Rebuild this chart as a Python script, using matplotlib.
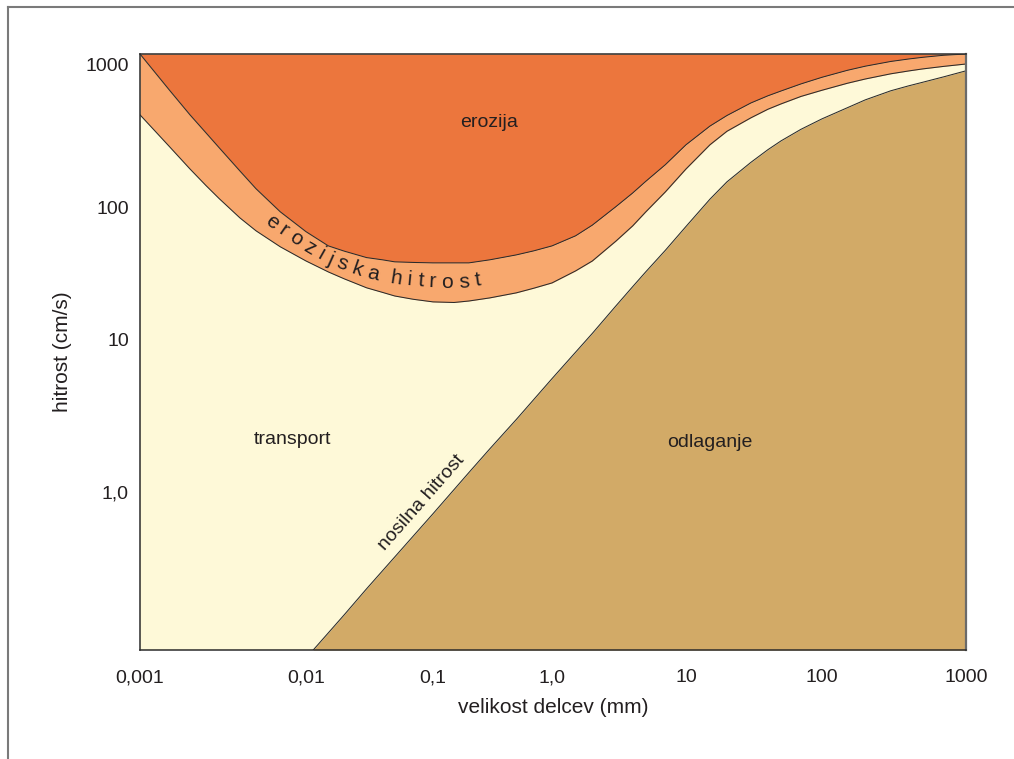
"""
Hjulstroem diagram: erosion, transport and deposition of grains
as a function of grain size and flow velocity.
"""

import matplotlib
matplotlib.use("Agg")

import matplotlib.pyplot as plt
import numpy as np
from matplotlib.font_manager import FontProperties
from matplotlib.lines import Line2D
from matplotlib.ticker import FixedLocator, NullLocator
from matplotlib.transforms import IdentityTransform


# grain size (mm) where the two erosion curves were read
GRAIN_SIZE = [0.001, 0.0015, 0.002, 0.0025, 0.003, 0.004, 0.005, 0.007,
              0.01, 0.015, 0.02, 0.03, 0.04, 0.05, 0.07, 0.1, 0.15, 0.2,
              0.3, 0.5, 0.7, 1, 1.5, 2, 3, 4, 5, 7, 10, 15, 20, 30, 40,
              50, 70, 100, 150, 200, 300, 400, 500, 700, 1000]

# upper edge of the erosion-velocity band (cm/s)
EROSION_UPPER = [1190, 668, 447, 334, 263, 181, 136, 93.3,
                 66, 51.5, 47, 42, 40.4, 39, 38.6, 38.3, 38.3, 38.3,
                 40.4, 44, 47.2, 51.5, 61.4, 74, 102, 127, 153, 200, 276,
                 373, 442, 541, 607, 656, 735, 818, 915, 978, 1055, 1098,
                 1128, 1166, 1190]

# lower edge of the erosion-velocity band (cm/s)
EROSION_LOWER = [447, 269, 187, 143, 116, 83.9, 67, 50.7,
                 39.6, 32.7, 29.0, 24.8, 22.9, 21.5, 20.3, 19.4, 19.2, 19.7,
                 20.8, 22.7, 24.6, 27.0, 33.3, 39.6, 56, 73, 93, 129, 187,
                 276, 343, 426, 489, 533, 601, 664, 743, 796, 865, 906,
                 936, 975, 1013]

# settling (carrying) velocity curve
SETTLE_SIZE = [0.0114, 0.02, 0.03, 0.05, 0.1, 0.2, 0.3, 0.5, 1, 2, 3, 4, 5,
               7, 10, 15, 20, 30, 40, 50, 70, 100, 200, 300, 400, 500,
               700, 1000]
SETTLE_SPEED = [0.1, 0.167, 0.244, 0.388, 0.728, 1.34, 1.92, 2.99, 5.56,
                11.2, 18.1, 25.3, 32.7, 47.6, 72.3, 115, 152, 208, 255, 294,
                354, 419, 569, 658, 713, 755, 824, 908]

X_TICKS = [0.001, 0.01, 0.1, 1, 10, 100, 1000]
X_TICK_LABELS = ["0,001", "0,01", "0,1", "1,0", "10", "100", "1000"]
Y_TICKS = [1, 10, 100, 1000]
Y_TICK_LABELS = ["1,0", "10", "100", "1000"]

# the hand drawn axes are not evenly spaced per decade
X_DECADES = [-3, -2, -1, 0, 1, 2, 3]
X_DECADE_POS = [0, 166, 293, 412, 546, 682, 826]
Y_DECADES = [-1, 0, 1, 2, 3]
Y_DECADE_POS = [0, 158, 310, 442, 585]

DARK = "#EC763D"
BAND = "#F8A86E"
CREAM = "#FEF9D8"
TAN = "#D2AA67"
INK = "#231f20"
FONT = ["Liberation Sans", "DejaVu Sans"]


def decade_scale(decades, positions):
    k_in = np.asarray(decades, float)
    k_out = np.asarray(positions, float)
    lo = (k_out[1] - k_out[0]) / (k_in[1] - k_in[0])
    hi = (k_out[-1] - k_out[-2]) / (k_in[-1] - k_in[-2])

    def forward(v):
        t = np.log10(np.clip(np.asarray(v, float), 1e-12, None))
        out = np.interp(t, k_in, k_out)
        out = np.where(t < k_in[0], k_out[0] + (t - k_in[0]) * lo, out)
        out = np.where(t > k_in[-1], k_out[-1] + (t - k_in[-1]) * hi, out)
        return out

    def inverse(p):
        p = np.asarray(p, float)
        t = np.interp(p, k_out, k_in)
        t = np.where(p < k_out[0], k_in[0] + (p - k_out[0]) / lo, t)
        t = np.where(p > k_out[-1], k_in[-1] + (p - k_out[-1]) / hi, t)
        return 10 ** t

    return forward, inverse


def text_along(ax, xs, ys, text, start_x, size, tracking, space, offset):
    """Write text letter by letter along a curve given in data coords."""

    fig = ax.figure
    renderer = fig.canvas.get_renderer()
    prop = FontProperties(family=FONT, size=size)

    pts = ax.transData.transform(np.column_stack([xs, ys]))
    seg = np.hypot(np.diff(pts[:, 0]), np.diff(pts[:, 1]))
    s = np.concatenate([[0], np.cumsum(seg)])

    x0 = ax.transData.transform((start_x, 1))[0]
    pos = np.interp(x0, pts[:, 0], s)

    for ch in text:
        if ch == " ":
            pos += space
            continue
        w = renderer.get_text_width_height_descent(ch, prop, ismath=False)[0]
        c = pos + w / 2
        px = np.interp(c, s, pts[:, 0])
        py = np.interp(c, s, pts[:, 1])
        dx = np.interp(c + 8, s, pts[:, 0]) - np.interp(c - 8, s, pts[:, 0])
        dy = np.interp(c + 8, s, pts[:, 1]) - np.interp(c - 8, s, pts[:, 1])
        n = np.hypot(dx, dy)
        nx, ny = -dy / n, dx / n
        ax.text(
            px - nx * offset, py - ny * offset, ch,
            transform=IdentityTransform(),
            rotation=np.degrees(np.arctan2(dy, dx)),
            rotation_mode="anchor",
            ha="center", va="baseline",
            fontproperties=prop, color=INK,
        )
        pos += w + tracking


def main():

    plt.rcParams["font.family"] = FONT

    fig = plt.figure(figsize=(10.14, 7.59), dpi=100)
    ax = fig.add_axes([140 / 1014, 109 / 759, 826 / 1014, 596 / 759])

    ax.set_xscale("function", functions=decade_scale(X_DECADES, X_DECADE_POS))
    ax.set_yscale("function", functions=decade_scale(Y_DECADES, Y_DECADE_POS))
    ax.set_xlim(0.001, 1000)
    ax.set_ylim(0.1, 1190)

    ax.set_facecolor(CREAM)

    ax.fill_between(GRAIN_SIZE, EROSION_UPPER, 1190, color=DARK, lw=0)
    ax.fill_between(GRAIN_SIZE, EROSION_LOWER, EROSION_UPPER, color=BAND, lw=0)
    ax.fill_between(SETTLE_SIZE, 0.1, SETTLE_SPEED, color=TAN, lw=0)

    for xs, ys in [(GRAIN_SIZE, EROSION_UPPER),
                   (GRAIN_SIZE, EROSION_LOWER),
                   (SETTLE_SIZE, SETTLE_SPEED)]:
        ax.plot(xs, ys, color="#2b2b2b", lw=0.75, solid_joinstyle="round")

    ax.xaxis.set_major_locator(FixedLocator(X_TICKS))
    ax.xaxis.set_minor_locator(NullLocator())
    ax.set_xticklabels(X_TICK_LABELS)
    ax.yaxis.set_major_locator(FixedLocator(Y_TICKS))
    ax.yaxis.set_minor_locator(NullLocator())
    ax.set_yticklabels(Y_TICK_LABELS)

    ax.tick_params(axis="x", length=0, pad=14, labelsize=14, labelcolor=INK)
    ax.tick_params(axis="y", length=0, pad=8, labelsize=14, labelcolor=INK)

    for side in ["top", "bottom", "left"]:
        ax.spines[side].set_color("#2b2b2b")
        ax.spines[side].set_linewidth(1.1)
    ax.spines["right"].set_color("#6a6a6a")
    ax.spines["right"].set_linewidth(1.6)

    ax.set_xlabel("velikost delcev (mm)", fontsize=15, color=INK)
    ax.xaxis.set_label_coords(0.5, -0.08)
    ax.set_ylabel("hitrost (cm/s)", fontsize=15, color=INK)
    ax.yaxis.set_label_coords(-0.082, 0.5)

    ax.text(0.296, 393, "erozija", fontsize=14, color=INK,
            ha="center", va="center")
    ax.text(0.00835, 2.2, "transport", fontsize=14, color=INK,
            ha="center", va="center")
    ax.text(15, 2.1, "odlaganje", fontsize=14, color=INK,
            ha="center", va="center")

    p1 = ax.transData.transform((SETTLE_SIZE[0], SETTLE_SPEED[0]))
    p2 = ax.transData.transform((SETTLE_SIZE[8], SETTLE_SPEED[8]))
    angle = np.degrees(np.arctan2(p2[1] - p1[1], p2[0] - p1[0]))
    ax.text(0.0818, 0.851, "nosilna hitrost", fontsize=14, color=INK,
            rotation=angle, rotation_mode="anchor",
            ha="center", va="center")

    band_mid = np.sqrt(np.array(EROSION_UPPER) * np.array(EROSION_LOWER))
    text_along(ax, GRAIN_SIZE, band_mid, "erozijska hitrost",
               start_x=0.0058, size=15, tracking=5.6, space=6, offset=5)

    # page frame
    fx = 8 / 1014
    fy = 1 - 7 / 759
    fig.add_artist(Line2D([fx, fx], [0, fy], transform=fig.transFigure,
                          color="#7a7a7a", lw=1.5))
    fig.add_artist(Line2D([fx, 1], [fy, fy], transform=fig.transFigure,
                          color="#7a7a7a", lw=1.5))

    fig.savefig("out.png", dpi=100)


if __name__ == "__main__":
    main()
